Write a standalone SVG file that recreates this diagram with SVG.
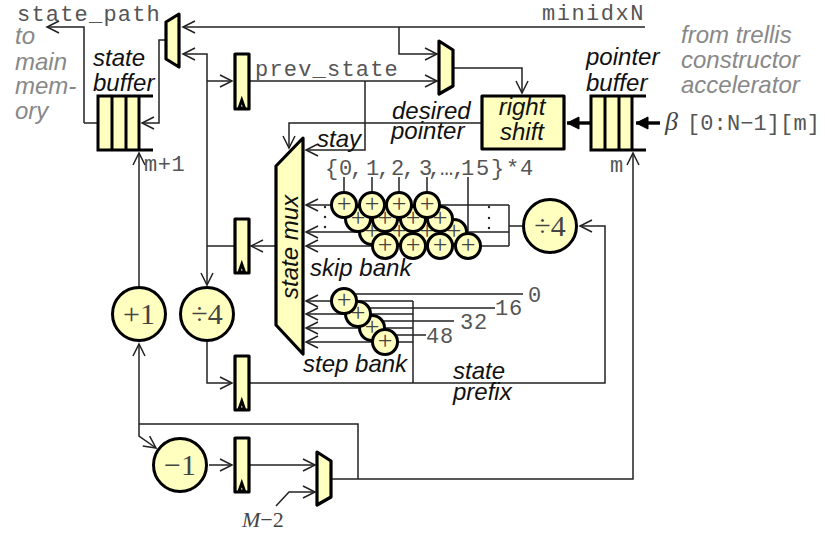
<svg xmlns="http://www.w3.org/2000/svg" width="825" height="533" viewBox="0 0 825 533">
<style>
.w{fill:none;stroke:#222;stroke-width:1.5}
.a{marker-end:url(#ar)}
.t{fill:none;stroke:#000;stroke-width:3.4;marker-end:url(#th)}
.b{fill:#ffffc0;stroke:#000;stroke-width:3.2;stroke-linejoin:round}
.bl{fill:none;stroke:#000;stroke-width:3}
.ck{fill:#ffffc0;stroke:#000;stroke-width:2.8;stroke-linejoin:miter}
.c{fill:#ffffc0;stroke:#000;stroke-width:3}
.i{font-family:"Liberation Sans",Arial,sans-serif;font-style:italic;font-size:24px;fill:#111}
.g{font-family:"Liberation Sans",Arial,sans-serif;font-style:italic;font-size:24px;fill:#888}
.m{font-family:"Liberation Mono","Courier New",monospace;font-size:22px;fill:#555}
.s{font-family:"Liberation Serif",serif;fill:#444;text-anchor:middle}
.big{font-size:30px}
.pl{font-size:26px}
.d{fill:#222}
</style>
<defs>
<marker id="ar" markerUnits="userSpaceOnUse" markerWidth="16" markerHeight="16" refX="13" refY="8" orient="auto" viewBox="0 0 16 16"><path d="M1,2 L13,8 L1,14" fill="none" stroke="#222" stroke-width="1.5"/></marker>
<marker id="th" markerUnits="userSpaceOnUse" markerWidth="18" markerHeight="18" refX="15" refY="9" orient="auto" viewBox="0 0 18 18"><path d="M3,3 L15,9 L3,15 Z" fill="#000" stroke="#000" stroke-width="1"/></marker>
</defs>
<g id="connectors">
<path class="w a" d="M645,27 H183"/>
<path class="w a" d="M84,123 V27 H47"/>
<path class="w" d="M98,123 H84"/>
<path class="w a" d="M166,40 H159 V123 H142"/>
<path class="w a" d="M207,200 V54 H183"/>
<path class="w a" d="M207,200 V285"/>
<path class="w a" d="M207,81 H232"/>
<path class="w a" d="M249,81 H437"/>
<path class="w a" d="M399,27 V54 H437"/>
<path class="w a" d="M365,81 V150 H306"/>
<path class="w a" d="M453,68 H522 V93"/>
<path class="w a" d="M481,123 H289 V148"/>
<path class="t" d="M591,123 H567"/>
<path class="t" d="M660,123 H636"/>
<path class="w a" d="M139,287 V153"/>
<path class="w a" d="M276,246 H251"/>
<path class="w" d="M234,246 H207"/>
<path class="w a" d="M207,342 V383 H232"/>
<path class="w a" d="M249,383 H605 V226 H580"/>
<path class="w" d="M522,226 H509"/>
<path class="w" d="M509,205 V246"/>
<path class="w a" d="M509,205 H306"/>
<path class="w a" d="M509,232 H306"/>
<path class="w a" d="M509,246 H306"/>
<path class="w" d="M344,177 V192 M372,177 V192 M399,177 V192 M427,177 V192 M468,177 V233"/>
<path class="w" d="M413,301 V383"/>
<path class="w a" d="M413,301 H306"/>
<path class="w a" d="M413,314 H306"/>
<path class="w a" d="M413,328 H306"/>
<path class="w a" d="M413,342 H306"/>
<path class="w" d="M344,294 H523 M358,308 H495 M372,321 H454 M385,335 H426"/>
<path class="w a" d="M139,424 V436 L156,448"/>
<path class="w a" d="M139,424 V344"/>
<path class="w" d="M139,424 H358 V479"/>
<path class="w a" d="M209,465 H232"/>
<path class="w a" d="M249,465 H315"/>
<path class="w a" d="M276,506 L289,492 H315"/>
<path class="w a" d="M331,479 H633 V153"/>
<circle class="d" cx="325" cy="207" r="1.2"/><circle class="d" cx="325" cy="217" r="1.2"/><circle class="d" cx="325" cy="227" r="1.2"/>
<circle class="d" cx="489" cy="207" r="1.2"/><circle class="d" cx="489" cy="218" r="1.2"/><circle class="d" cx="489" cy="228" r="1.2"/>
</g>
<g id="path-mux"><polygon class="b" points="179,14 166,22 166,59 179,67"/></g>
<g id="pointer-mux"><polygon class="b" points="439,41 453,50 453,86 439,94"/></g>
<g id="bottom-mux"><polygon class="b" points="317,452 331,461 331,497 317,505"/></g>
<g id="state-buffer">
<rect x="98" y="96" width="41" height="54" fill="#ffffc0"/>
<path class="bl" d="M153,96 H98 V150 H153 M112,96 V150 M126,96 V150 M139,96 V150"/>
</g>
<g id="pointer-buffer">
<rect x="591" y="96" width="41" height="54" fill="#ffffc0"/>
<path class="bl" d="M646,96 H591 V150 H646 M605,96 V150 M619,96 V150 M632,96 V150"/>
</g>
<g id="reg-prev"><rect class="b" x="235" y="54" width="14" height="55"/><path class="ck" d="M239,108 L241.8,100 L244.6,108 Z"/></g>
<g id="reg-skip"><rect class="b" x="235" y="219" width="14" height="54"/><path class="ck" d="M239,272 L241.8,264 L244.6,272 Z"/></g>
<g id="reg-prefix"><rect class="b" x="235" y="356" width="14" height="54"/><path class="ck" d="M239,409 L241.8,401 L244.6,409 Z"/></g>
<g id="reg-bottom"><rect class="b" x="235" y="438" width="14" height="54"/><path class="ck" d="M239,491 L241.8,483 L244.6,491 Z"/></g>
<g id="right-shift"><rect class="b" x="482" y="96" width="82" height="53"/>
<text class="i" x="522" y="115" text-anchor="middle">right</text><text class="i" x="522" y="140" text-anchor="middle">shift</text></g>
<g id="state-mux"><polygon class="b" points="303,138 276,166 276,325 303,354"/>
<text class="i" transform="translate(298,247) rotate(-90)" text-anchor="middle">state mux</text></g>
<g id="inc"><circle class="c" cx="139" cy="314" r="26.5"/><text class="s big" x="139" y="324">+1</text></g>
<g id="div-left"><circle class="c" cx="207" cy="314" r="26.5"/><text class="s big" x="207" y="324">÷4</text></g>
<g id="div-right"><circle class="c" cx="550" cy="226" r="26.5"/><text class="s big" x="550" y="236">÷4</text></g>
<g id="dec"><circle class="c" cx="180" cy="465" r="26.5"/><text class="s big" x="180" y="475">−1</text></g>
<g id="skip-bank">
<g><circle class="c" cx="372" cy="232" r="12.5"/><text class="s pl" x="372" y="238.5">+</text></g>
<g><circle class="c" cx="399" cy="232" r="12.5"/><text class="s pl" x="399" y="238.5">+</text></g>
<g><circle class="c" cx="427" cy="232" r="12.5"/><text class="s pl" x="427" y="238.5">+</text></g>
<g><circle class="c" cx="454" cy="232" r="12.5"/><text class="s pl" x="454" y="238.5">+</text></g>
<g><circle class="c" cx="358" cy="219" r="12.5"/><text class="s pl" x="358" y="225.5">+</text></g>
<g><circle class="c" cx="385" cy="219" r="12.5"/><text class="s pl" x="385" y="225.5">+</text></g>
<g><circle class="c" cx="413" cy="219" r="12.5"/><text class="s pl" x="413" y="225.5">+</text></g>
<g><circle class="c" cx="440" cy="219" r="12.5"/><text class="s pl" x="440" y="225.5">+</text></g>
<g><circle class="c" cx="344" cy="205" r="12.5"/><text class="s pl" x="344" y="211.5">+</text></g>
<g><circle class="c" cx="372" cy="205" r="12.5"/><text class="s pl" x="372" y="211.5">+</text></g>
<g><circle class="c" cx="399" cy="205" r="12.5"/><text class="s pl" x="399" y="211.5">+</text></g>
<g><circle class="c" cx="427" cy="205" r="12.5"/><text class="s pl" x="427" y="211.5">+</text></g>
<g><circle class="c" cx="385" cy="246" r="12.5"/><text class="s pl" x="385" y="252.5">+</text></g>
<g><circle class="c" cx="413" cy="246" r="12.5"/><text class="s pl" x="413" y="252.5">+</text></g>
<g><circle class="c" cx="440" cy="246" r="12.5"/><text class="s pl" x="440" y="252.5">+</text></g>
<g><circle class="c" cx="468" cy="246" r="12.5"/><text class="s pl" x="468" y="252.5">+</text></g>
</g>
<g id="step-bank">
<g><circle class="c" cx="372" cy="328" r="12.5"/><text class="s pl" x="372" y="334.5">+</text></g>
<g><circle class="c" cx="358" cy="314" r="12.5"/><text class="s pl" x="358" y="320.5">+</text></g>
<g><circle class="c" cx="344" cy="301" r="12.5"/><text class="s pl" x="344" y="307.5">+</text></g>
<g><circle class="c" cx="385" cy="342" r="12.5"/><text class="s pl" x="385" y="348.5">+</text></g>
</g>
<g id="labels">
<text class="m" x="17" y="21" letter-spacing="1.2">state_path</text>
<text class="m" x="255" y="76" letter-spacing="1.2">prev_state</text>
<text class="m" x="542" y="20" letter-spacing="1.5">minidxN</text>
<text class="m" x="144" y="171" letter-spacing="0.5">m+1</text>
<text class="m" x="610" y="172">m</text>
<text class="m" x="687" y="130" letter-spacing="0.1">[0:N−1][m]</text>
<text x="665" y="130" font-family="Liberation Serif,serif" font-style="italic" font-size="26" fill="#444">β</text>
<text class="m" x="325 339 350 366 377 391 402 419 428 440 452 461 476 491 506 520" y="175">{0,1,2,3,…,15}*4</text>
<text class="m" x="528" y="302">0</text>
<text class="m" x="495 509" y="315">16</text>
<text class="m" x="460 474" y="329">32</text>
<text class="m" x="426 440" y="343">48</text>
<text x="242" y="527" font-family="Liberation Serif,serif" font-size="22" fill="#444"><tspan font-style="italic">M</tspan>−2</text>
<text class="i" x="93" y="66">state</text><text class="i" x="93" y="91">buffer</text>
<text class="i" x="586" y="65">pointer</text><text class="i" x="586" y="91">buffer</text>
<text class="i" x="392" y="119">desired</text><text class="i" x="391" y="139">pointer</text>
<text class="i" x="317" y="147">stay</text>
<text class="i" x="310" y="276">skip bank</text>
<text class="i" x="303" y="372">step bank</text>
<text class="i" x="453" y="379">state</text><text class="i" x="453" y="400">prefix</text>
<text class="g" x="15" y="44">to</text><text class="g" x="15" y="70">main</text><text class="g" x="15" y="94">mem-</text><text class="g" x="15" y="119">ory</text>
<text class="g" x="681" y="43">from trellis</text><text class="g" x="681" y="68">constructor</text><text class="g" x="681" y="93">accelerator</text>
</g>
</svg>
